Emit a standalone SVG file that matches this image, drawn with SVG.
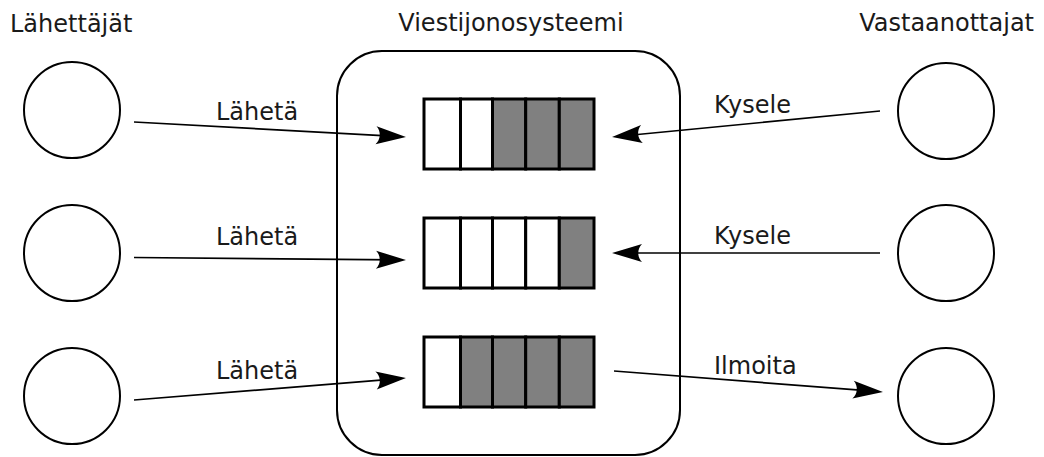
<svg xmlns="http://www.w3.org/2000/svg" width="1044" height="457" viewBox="0 0 1044 457">
<style>
text{font-family:"DejaVu Sans","Liberation Sans",sans-serif;font-size:24px;fill:#1a1a1a}
.n{fill:#fff;stroke:#000;stroke-width:2}
.c{fill:#fff;stroke:#000;stroke-width:3}
.g{fill:#808080;stroke:#000;stroke-width:3}
.e{fill:none;stroke:#000;stroke-width:1.7;marker-end:url(#ah)}
</style>
<defs>
<marker id="ah" markerUnits="userSpaceOnUse" markerWidth="1" markerHeight="1" refX="0" refY="0" orient="auto" overflow="visible">
<path d="M10,0 L-20,-9 C-15,-4 -15,4 -20,9 Z" fill="#000"/>
</marker>
</defs>
<text x="10" y="32">Lähettäjät</text>
<text x="511" y="31" text-anchor="middle">Viestijonosysteemi</text>
<text x="1034" y="31" text-anchor="end">Vastaanottajat</text>
<g id="system">
<rect x="337" y="51" width="343" height="404" rx="45" ry="45" class="n"/>
</g>
<g id="sender1"><circle cx="72" cy="110" r="48" class="n"/></g>
<g id="sender2"><circle cx="72" cy="253" r="48" class="n"/></g>
<g id="sender3"><circle cx="72" cy="396" r="48" class="n"/></g>
<g id="receiver1"><circle cx="946" cy="111" r="48" class="n"/></g>
<g id="receiver2"><circle cx="946" cy="253" r="48" class="n"/></g>
<g id="receiver3"><circle cx="946" cy="396" r="48" class="n"/></g>
<g id="queue1">
<rect x="424" y="99" width="36.5" height="70" class="c"/>
<rect x="460.5" y="99" width="32" height="70" class="c"/>
<rect x="492.5" y="99" width="33.2" height="70" class="g"/>
<rect x="525.7" y="99" width="33.6" height="70" class="g"/>
<rect x="559.3" y="99" width="34.7" height="70" class="g"/>
</g>
<g id="queue2">
<rect x="424" y="218" width="36.5" height="70" class="c"/>
<rect x="460.5" y="218" width="32" height="70" class="c"/>
<rect x="492.5" y="218" width="33.2" height="70" class="c"/>
<rect x="525.7" y="218" width="33.6" height="70" class="c"/>
<rect x="559.3" y="218" width="34.7" height="70" class="g"/>
</g>
<g id="queue3">
<rect x="424" y="337" width="36.5" height="70" class="c"/>
<rect x="460.5" y="337" width="32" height="70" class="g"/>
<rect x="492.5" y="337" width="33.2" height="70" class="g"/>
<rect x="525.7" y="337" width="33.6" height="70" class="g"/>
<rect x="559.3" y="337" width="34.7" height="70" class="g"/>
</g>
<g id="connectors">
<path class="e" d="M134,122 L396,136.4"/>
<path class="e" d="M134,257.5 L396,259.9"/>
<path class="e" d="M134,400 L396,378.8"/>
<path class="e" d="M880,111 L622,136"/>
<path class="e" d="M880,253 L622,253"/>
<path class="e" d="M614,371 L873,391.2"/>
<text x="216" y="120">Lähetä</text>
<text x="216" y="245">Lähetä</text>
<text x="216" y="379">Lähetä</text>
<text x="714" y="113">Kysele</text>
<text x="714" y="244">Kysele</text>
<text x="714" y="374">Ilmoita</text>
</g>
</svg>
